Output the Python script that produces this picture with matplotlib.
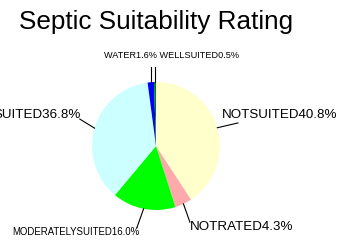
import numpy as np
import matplotlib
matplotlib.use("Agg")
import matplotlib.pyplot as plt

# data
categories = ["NOTSUITED", "NOTRATED", "MODERATELYSUITED", "SUITED", "WATER", "WELLSUITED"]
percents = [40.8, 4.3, 16.0, 36.8, 1.6, 0.5]
colors = ["#FFFFCC", "#FFAAAA", "#00FF00", "#CCFFFF", "#0000FF", "#008000"]

plt.rcParams['font.family'] = ['Liberation Sans', 'DejaVu Sans']

fig = plt.figure(figsize=(3.43, 2.45), dpi=100)
fig.patch.set_facecolor("white")

# pie centre ~ (156,146) px, radius ~64 px
ax = fig.add_axes([92 / 343, 35 / 245, 128 / 343, 128 / 245])
wedges, _ = ax.pie(percents, colors=colors, startangle=90, counterclock=False,
                   radius=1.0, wedgeprops=dict(linewidth=0))
ax.set_xlim(-1, 1)
ax.set_ylim(-1, 1)
ax.set_aspect("equal")
ax.axis("off")

fig.text(156 / 343, 1 - 22 / 245, "Septic Suitability Rating", ha="center", va="center",
         fontsize=18.8)

def edge_point(w):
    a = np.radians((w.theta1 + w.theta2) / 2)
    return np.cos(a), np.sin(a)

labels = ["%s%.1f%%" % (c, p) for c, p in zip(categories, percents)]

# leader line end and text position (data units), text alignment, size
layout = {
    "NOTSUITED": ((1.28, 0.36), (1.03, 0.39), "left", "bottom", 9.6),
    "NOTRATED": ((0.53, -1.19), (0.53, -1.27), "left", "center", 9.6),
    "MODERATELYSUITED": ((-0.30, -1.28), (-1.25, -1.35), "center", "center", 6.9),
    "SUITED": ((-1.19, 0.42), (-1.18, 0.48), "right", "center", 9.6),
}

for w, cat, lab in zip(wedges, categories, labels):
    x0, y0 = edge_point(w)
    if cat in layout:
        (x1, y1), (tx, ty), ha, va, fs = layout[cat]
        ax.plot([x0, x1], [y0, y1], color="black", lw=0.8, clip_on=False)
        ax.text(tx, ty, lab, ha=ha, va=va, fontsize=fs, clip_on=False)
    else:
        ax.plot([x0, x0], [y0, 1.23], color="black", lw=0.8, clip_on=False)

ax.text(0.25, 1.42, labels[4] + " " + labels[5], ha="center", va="center",
        fontsize=6.6, clip_on=False)

fig.savefig("out.png", dpi=100)
